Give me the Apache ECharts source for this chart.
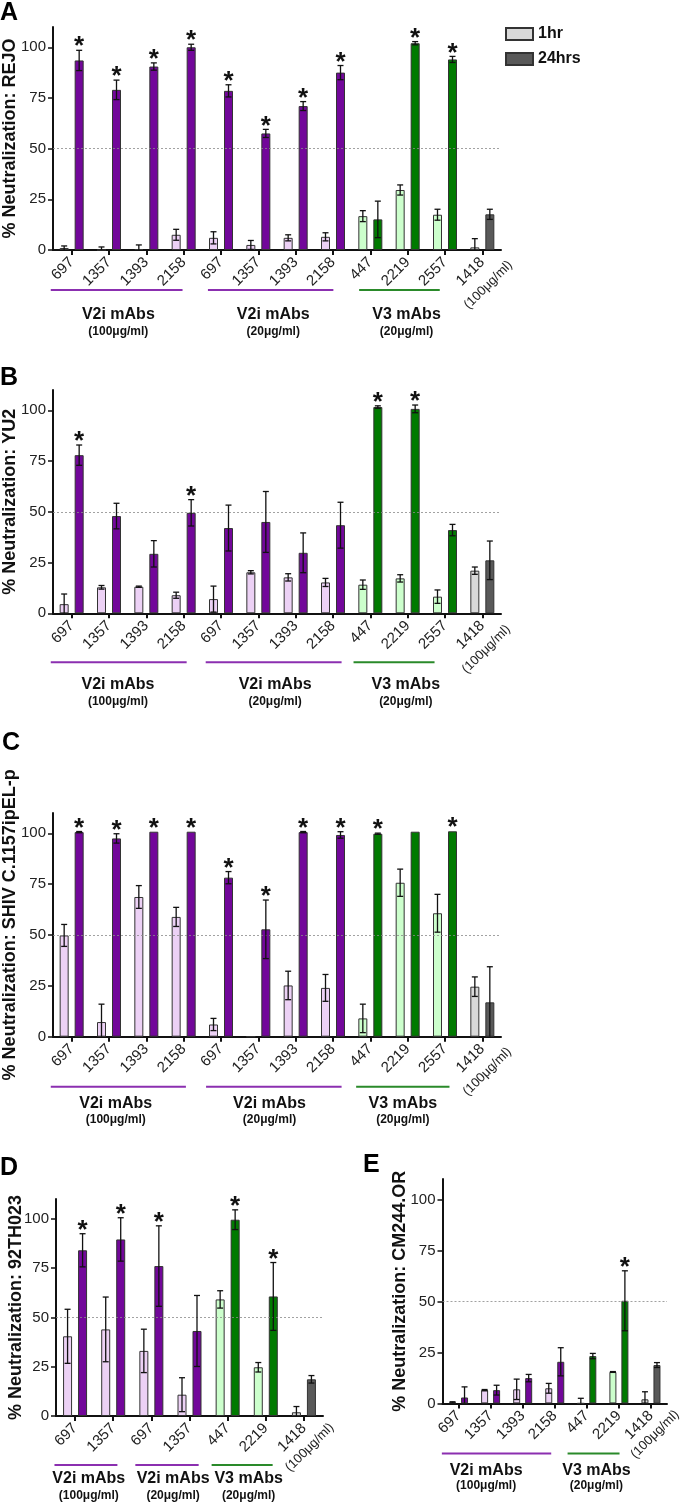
<!DOCTYPE html>
<html><head><meta charset="utf-8">
<script src="https://cdn.jsdelivr.net/npm/echarts@6/dist/echarts.min.js"></script>
<style>html,body{margin:0;padding:0;background:#fff}#c{width:680px;height:1504px}</style>
</head><body><div id="c"></div>
<script>
// ---------- categories ----------
const catsABC = ['697','1357','1393','2158','697','1357','1393','2158','447','2219','2557','1418'];
const kindsABC = ['p','p','p','p','p','p','p','p','g','g','g','k'];
const catsD = ['697','1357','697','1357','447','2219','1418'];
const kindsD = ['p','p','p','p','g','g','k'];
const catsE = ['697','1357','1393','2158','447','2219','1418'];
const kindsE = ['p','p','p','p','g','g','k'];
const yTicks = [0, 25, 50, 75, 100];

// ---------- data: panel A (REJO) ----------
const A_1hr     = [1, 0, 0.5, 7.5, 6, 2.5, 6, 6.5, 16.7, 29.6, 17.4, 1.3];
const A_1hr_err = [1, 1.5, 2, 2.7, 3, 2.2, 1.5, 2, 2.7, 2.5, 2.7, 4.3];
const A_24      = [93.5, 79, 90.5, 100, 78.5, 57.5, 71, 87.5, 15.1, 102, 94, 17.6];
const A_24_err  = [5, 4.8, 1.8, 1.5, 3, 2, 2.2, 3.5, 9, 0.8, 1.5, 2.5];
const A_star    = [1, 1, 1, 1, 1, 1, 1, 1, 0, 1, 1, 0];
// ---------- panel B (YU2) ----------
const B_1hr     = [4.5, 12.8, 13.1, 8.9, 7, 20.2, 17.7, 15.2, 14.1, 17.2, 8.2, 21];
const B_1hr_err = [5, 0.9, 0.3, 1.5, 6.4, 0.8, 1.8, 2, 2.3, 1.8, 3.3, 1.8];
const B_24      = [77.9, 47.9, 29.3, 49.5, 42, 45, 29.8, 43.4, 101.6, 100.7, 41, 26.1];
const B_24_err  = [5, 6.3, 6.5, 6.5, 11.3, 15, 9.8, 11.3, 0.6, 1.9, 2.8, 9.5];
const B_star    = [1, 0, 0, 1, 0, 0, 0, 0, 1, 1, 0, 0];
// ---------- panel C (SHIV C.1157ipEL-p) ----------
const C_1hr     = [49.8, 7.2, 68.7, 58.9, 6, 0, 25.2, 24, 9, 75.7, 60.7, 24.6];
const C_1hr_err = [5.4, 8.8, 5.6, 4.7, 3, 0, 7, 6.6, 7, 6.7, 9.3, 4.8];
const C_24      = [100.6, 97.5, 100.8, 100.8, 78.2, 52.8, 100.6, 99.2, 99.8, 100.8, 101, 16.9];
const C_24_err  = [0.3, 2.3, 0, 0, 3, 14.4, 0.3, 1.6, 0.3, 0, 0, 17.5];
const C_star    = [1, 1, 1, 1, 1, 1, 1, 1, 1, 0, 1, 0];
// ---------- panel D (92TH023) ----------
const D_1hr     = [40.4, 43.9, 33, 10.8, 59.1, 24.7, 1.9];
const D_1hr_err = [13.7, 16.4, 11, 8.6, 4.4, 2.4, 2.9];
const D_24      = [84, 89.5, 76, 43.1, 99.5, 60.6, 18.6];
const D_24_err  = [8.4, 11, 20.4, 18, 5, 17.2, 1.9];
const D_star    = [1, 1, 1, 0, 1, 1, 0];
// ---------- panel E (CM244.OR) ----------
const E_1hr     = [0.5, 6.5, 6.9, 7.4, 0, 15.4, 2];
const E_1hr_err = [0.3, 0.3, 5, 2.4, 2.5, 0.2, 3.7];
const E_24      = [2.9, 6.5, 12.4, 20.4, 23.2, 50.3, 18.8];
const E_24_err  = [5.2, 2.4, 1.8, 6.9, 1.3, 14.7, 1.2];
const E_star    = [0, 0, 0, 0, 0, 1, 0];

// ---------- styles / layout ----------
const FONT = '"Liberation Sans", Arial, Helvetica, sans-serif';
const COLORS = { p: ['#ecd1f5', '#72079a'], g: ['#ccffcc', '#007a00'], k: ['#d9d9d9', '#595959'] };
const LINECOL = { p: '#8b2fb0', g: '#2a8a2a' };
const MU = '\u03bc';

const panels = [
  { letter: 'A', letterPos: [0, 1], title: '% Neutralization: REJO', cats: catsABC, kinds: kindsABC,
    h1: A_1hr, e1: A_1hr_err, h24: A_24, e24: A_24_err, star: A_star,
    grid: { left: 53, top: 27, width: 448, height: 223 }, bw: 9, gap: 6, nameGap: 34,
    lineDy: 40, textDy: 65, subDy: 82, subOff: [6, 35],
    groups: [
      { from: -0.56, to: 2.97, c: 1.25, label: 'V2i mAbs', sub: '(100' + MU + 'g/ml)', k: 'p' },
      { from: 3.65, to: 7.01, c: 5.4, label: 'V2i mAbs', sub: '(20' + MU + 'g/ml)', k: 'p' },
      { from: 7.7, to: 9.86, c: 8.97, label: 'V3 mAbs', sub: '(20' + MU + 'g/ml)', k: 'g' } ] },
  { letter: 'B', letterPos: [0, 366], title: '% Neutralization: YU2', cats: catsABC, kinds: kindsABC,
    h1: B_1hr, e1: B_1hr_err, h24: B_24, e24: B_24_err, star: B_star,
    grid: { left: 53, top: 390, width: 448, height: 223.3 }, bw: 9, gap: 6, nameGap: 34,
    lineDy: 49, textDy: 71, subDy: 88, subOff: [4, 36],
    groups: [
      { from: -0.56, to: 3.08, c: 1.24, label: 'V2i mAbs', sub: '(100' + MU + 'g/ml)', k: 'p' },
      { from: 3.59, to: 7.23, c: 5.45, label: 'V2i mAbs', sub: '(20' + MU + 'g/ml)', k: 'p' },
      { from: 7.55, to: 9.72, c: 8.95, label: 'V3 mAbs', sub: '(20' + MU + 'g/ml)', k: 'g' } ] },
  { letter: 'C', letterPos: [2, 731], title: '% Neutralization: SHIV C.1157ipEL-p', cats: catsABC, kinds: kindsABC,
    h1: C_1hr, e1: C_1hr_err, h24: C_24, e24: C_24_err, star: C_star,
    grid: { left: 53, top: 813, width: 448, height: 223.7 }, bw: 9, gap: 6, nameGap: 34,
    lineDy: 50, textDy: 67, subDy: 83, subOff: [5, 35],
    groups: [
      { from: -0.56, to: 3.06, c: 1.18, label: 'V2i mAbs', sub: '(100' + MU + 'g/ml)', k: 'p' },
      { from: 3.6, to: 7.23, c: 5.3, label: 'V2i mAbs', sub: '(20' + MU + 'g/ml)', k: 'p' },
      { from: 7.62, to: 10.12, c: 8.87, label: 'V3 mAbs', sub: '(20' + MU + 'g/ml)', k: 'g' } ] },
  { letter: 'D', letterPos: [0, 1156], title: '% Neutralization: 92TH023', cats: catsD, kinds: kindsD,
    h1: D_1hr, e1: D_1hr_err, h24: D_24, e24: D_24_err, star: D_star,
    grid: { left: 56, top: 1199, width: 267, height: 217 }, bw: 9, gap: 6, nameGap: 30.5,
    lineDy: 49, textDy: 62.5, subDy: 80, subOff: [5.7, 31.5],
    groups: [
      { from: -0.54, to: 1.11, c: 0.36, label: 'V2i mAbs', sub: '(100' + MU + 'g/ml)', k: 'p' },
      { from: 1.58, to: 3.24, c: 2.57, label: 'V2i mAbs', sub: '(20' + MU + 'g/ml)', k: 'p' },
      { from: 3.58, to: 5.18, c: 4.55, label: 'V3 mAbs', sub: '(20' + MU + 'g/ml)', k: 'g' } ] },
  { letter: 'E', letterPos: [363, 1153], title: '% Neutralization: CM244.OR', cats: catsE, kinds: kindsE,
    h1: E_1hr, e1: E_1hr_err, h24: E_24, e24: E_24_err, star: E_star,
    grid: { left: 442.5, top: 1179, width: 224.5, height: 224.4 }, bw: 7, gap: 5, nameGap: 33.5,
    lineDy: 50, textDy: 66.7, subDy: 82.7, subOff: [4, 31],
    groups: [
      { from: -0.52, to: 2.89, c: 0.86, label: 'V2i mAbs', sub: '(100' + MU + 'g/ml)', k: 'p' },
      { from: 3.4, to: 5.02, c: 4.3, label: 'V3 mAbs', sub: '(20' + MU + 'g/ml)', k: 'g' } ] }
];

const grid = [], xAxis = [], yAxis = [], series = [];
panels.forEach((P, g) => {
  grid.push(Object.assign({ outerBoundsMode: 'none', containLabel: false }, P.grid));
  xAxis.push({
    type: 'category', gridIndex: g, data: P.cats, boundaryGap: true,
    axisLine: { show: true, lineStyle: { color: '#111', width: 2 } },
    axisTick: { show: true, alignWithLabel: true, length: 5, lineStyle: { color: '#111', width: 2 } },
    axisLabel: { interval: 0, rotate: 45, margin: 10, fontSize: 15, color: '#222', fontFamily: FONT },
    splitLine: { show: false }
  });
  yAxis.push({
    type: 'value', gridIndex: g, min: 0, max: 110,
    name: P.title, nameLocation: 'middle', nameRotate: 90, nameGap: P.nameGap, nameMoveOverlap: false,
    nameTextStyle: { fontSize: 18, fontWeight: 'bold', color: '#111', fontFamily: FONT },
    axisLine: { show: true, lineStyle: { color: '#111', width: 2 } },
    axisTick: { show: true, length: 5, customValues: yTicks, lineStyle: { color: '#111', width: 1.5 } },
    axisLabel: { customValues: yTicks, margin: 7, fontSize: 15, color: '#222', fontFamily: FONT },
    splitLine: { show: false }
  });
  const gapPct = (P.gap / P.bw * 100) + '%';
  series.push({
    type: 'bar', name: '1hr', xAxisIndex: g, yAxisIndex: g, barWidth: P.bw, barGap: gapPct,
    itemStyle: { color: COLORS.k[0], borderColor: '#333', borderWidth: 1 },
    data: P.h1.map((v, i) => ({ value: v, itemStyle: { color: COLORS[P.kinds[i]][0] } })),
    markLine: { silent: true, symbol: 'none', label: { show: false },
      lineStyle: { color: '#8a8a8a', type: [2, 2], width: 0.8 }, data: [{ yAxis: 50 }] }
  });
  series.push({
    type: 'bar', name: '24hrs', xAxisIndex: g, yAxisIndex: g, barWidth: P.bw, barGap: gapPct,
    itemStyle: { color: COLORS.k[1], borderColor: '#333', borderWidth: 1 },
    data: P.h24.map((v, i) => ({ value: v, itemStyle: { color: COLORS[P.kinds[i]][1] } }))
  });
  const half = (P.bw + P.gap) / 2;
  series.push({
    type: 'custom', name: 'err', xAxisIndex: g, yAxisIndex: g, z: 5, silent: true,
    data: P.cats.map((c, i) => [i, P.h1[i], P.e1[i], P.h24[i], P.e24[i], P.star[i]]),
    renderItem: (params, api) => {
      const i = api.value(0);
      const children = [];
      const ls = { stroke: '#111', lineWidth: 1.3 };
      [[1, 2, -half], [3, 4, half]].forEach(([vi, ei, off]) => {
        const v = api.value(vi), e = api.value(ei);
        if (e > 0) {
          const x = api.coord([i, v])[0] + off;
          const yt = api.coord([i, v + e])[1];
          const yb = api.coord([i, Math.max(0, v - e)])[1];
          children.push({ type: 'line', shape: { x1: x, y1: yt, x2: x, y2: yb }, style: ls });
          children.push({ type: 'line', shape: { x1: x - 3, y1: yt, x2: x + 3, y2: yt }, style: ls });
          if (v - e > 0) children.push({ type: 'line', shape: { x1: x - 3, y1: yb, x2: x + 3, y2: yb }, style: ls });
        }
      });
      if (api.value(5)) {
        const v = api.value(3), e = api.value(4);
        const x = api.coord([i, v])[0] + half;
        const y = api.coord([i, v + e])[1];
        children.push({ type: 'text', x: x, y: y - 3,
          style: { text: '*', font: 'bold 26px ' + FONT, align: 'center', verticalAlign: 'middle', fill: '#111' } });
      }
      return { type: 'group', children: children };
    }
  });
});

const chart = echarts.init(document.getElementById('c'), null, { renderer: 'canvas' });
chart.setOption({
  backgroundColor: '#fff',
  animation: false,
  grid, xAxis, yAxis, series,
  legend: {
    data: ['1hr', '24hrs'], orient: 'vertical', left: 500, top: 21,
    itemWidth: 27, itemHeight: 12, itemGap: 9, icon: 'rect', selectedMode: false,
    textStyle: { fontSize: 16, fontWeight: 'bold', color: '#111', fontFamily: FONT }
  }
});

// annotations positioned via the axes' own pixel mapping
const gr = [];
panels.forEach((P, g) => {
  const p0 = chart.convertToPixel({ gridIndex: g }, [0, 0]);
  const p1 = chart.convertToPixel({ gridIndex: g }, [1, 0]);
  const x0 = p0[0], y0 = p0[1], dx = p1[0] - p0[0];
  P.groups.forEach(G => {
    const xa = x0 + G.from * dx, xb = x0 + G.to * dx, xc = x0 + G.c * dx;
    gr.push({ type: 'line', silent: true, shape: { x1: xa, y1: y0 + P.lineDy, x2: xb, y2: y0 + P.lineDy },
      style: { stroke: LINECOL[G.k], lineWidth: 2 } });
    gr.push({ type: 'text', silent: true, x: xc, y: y0 + P.textDy,
      style: { text: G.label, font: 'bold 16px ' + FONT, align: 'center', verticalAlign: 'middle', fill: '#111' } });
    gr.push({ type: 'text', silent: true, x: xc, y: y0 + P.subDy,
      style: { text: G.sub, font: 'bold 12px ' + FONT, align: 'center', verticalAlign: 'middle', fill: '#111' } });
  });
  const xi = x0 + (P.cats.length - 1) * dx;
  gr.push({ type: 'text', silent: true, x: xi + P.subOff[0], y: y0 + P.subOff[1], rotation: Math.PI / 4,
    style: { text: '(100' + MU + 'g/ml)', font: '13px ' + FONT, align: 'center', verticalAlign: 'middle', fill: '#222' } });
  gr.push({ type: 'text', silent: true, x: P.letterPos[0], y: P.letterPos[1],
    style: { text: P.letter, font: 'bold 25px ' + FONT, align: 'left', verticalAlign: 'top', fill: '#000' } });
});
chart.setOption({ graphic: gr });
</script>
</body></html>
